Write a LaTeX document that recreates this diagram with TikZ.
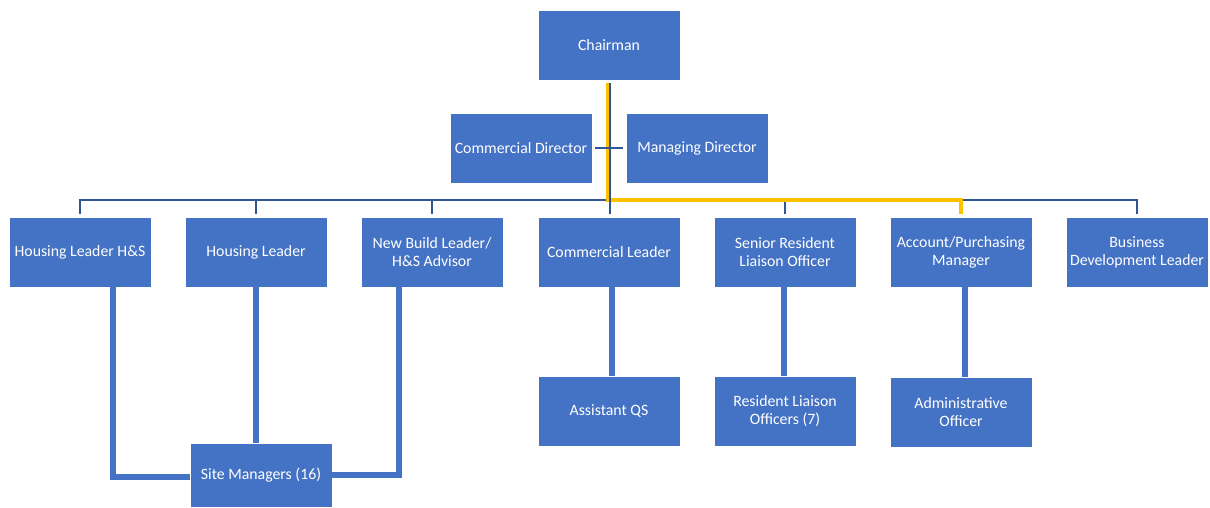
\documentclass[tikz,border=0pt]{standalone}
\usepackage{fontspec}
\setmainfont{Carlito}
\definecolor{boxblue}{HTML}{4472C4}
\definecolor{busblue}{HTML}{2F5597}
\definecolor{hlyellow}{HTML}{FFC000}
\tikzset{
  orgbox/.style={rectangle, fill=boxblue, draw=white, line width=0.8pt, minimum width=142pt, minimum height=70pt, inner sep=0pt, text=white, align=center, font=\fontsize{15.8}{18}\selectfont},
  bus/.style={draw=busblue, line width=2.8pt},
  sub/.style={draw=boxblue, line width=5.5pt},
  hl/.style={draw=hlyellow, line width=4pt}
}
\begin{document}
\begin{tikzpicture}[x=1pt,y=-1pt]
\useasboundingbox (0,0) rectangle (1210,507);
\node[orgbox] (chair) at (609,45) {Chairman};
\node[orgbox] (cd) at (521,148) {Commercial Director};
\node[orgbox] (md) at (697,148) {Managing Director};
\node[orgbox] (r1) at (80,252) {Housing Leader H\&S};
\node[orgbox] (r2) at (256,252) {Housing Leader};
\node[orgbox] (r3) at (432,252) {New Build Leader/\\H\&S Advisor};
\node[orgbox] (r4) at (609,252) {Commercial Leader};
\node[orgbox] (r5) at (785,252) {Senior Resident\\Liaison Officer};
\node[orgbox] (r6) at (961,252) {Account/Purchasing\\Manager};
\node[orgbox] (r7) at (1137,252) {Business\\Development Leader};
\node[orgbox] (aqs) at (609,411.5) {Assistant QS};
\node[orgbox] (rlo) at (785,411.5) {Resident Liaison\\Officers (7)};
\node[orgbox] (ao) at (961,412.5) {Administrative\\Officer};
\node[orgbox, minimum height=64pt] (sm) at (261,475) {Site Managers (16)};
\coordinate (busy) at (0,200);
\coordinate (ctop) at ([yshift=-3pt]chair.south);
\coordinate (cbot) at ([yshift=3pt]r4.north);
% bus
\draw[bus] ([yshift=3pt]r1.north) |- (r7.north |- busy) -- ([yshift=3pt]r7.north);
\foreach \n in {r2,r3,r5,r6} { \draw[bus] (\n.north |- busy) -- ([yshift=3pt]\n.north); }
% highlighted path
\draw[hl] ([xshift=-1.5pt]ctop) |- ([yshift=0.5pt]r6.north |- busy) -- ([yshift=3pt]r6.north);
\draw[bus] ([xshift=1pt]ctop) -- ([xshift=1pt]cbot);
\draw[bus] ([xshift=3pt]cd.east) -- ([xshift=-3pt]md.west);
% lower connectors
\draw[sub] ([xshift=33pt]r1.south) |- ([yshift=-2pt]sm.west);
\draw[sub] (r2.south) -- (r2.south |- sm.north);
\draw[sub] ([xshift=-33pt]r3.south) |- (sm.east);
\draw[sub] ([xshift=3pt]r4.south) -- ([xshift=3pt]aqs.north);
\draw[sub] ([xshift=-1pt]r5.south) -- ([xshift=-1pt]rlo.north);
\draw[sub] ([xshift=4pt]r6.south) -- ([xshift=4pt]ao.north);
\end{tikzpicture}
\end{document}
